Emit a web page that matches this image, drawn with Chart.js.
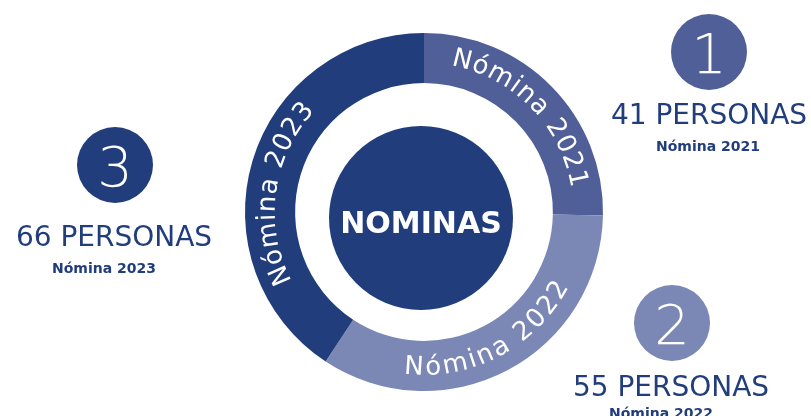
<!DOCTYPE html>
<html>
<head>
<meta charset="utf-8">
<script src="https://cdn.jsdelivr.net/npm/chart.js@4"></script>
<style>
  html, body { margin: 0; padding: 0; background: #ffffff; }
  #wrap { width: 811px; height: 416px; position: relative; overflow: hidden; }
</style>
</head>
<body>
<div id="wrap"><canvas id="nominasChart" width="811" height="416"></canvas></div>
<script>
// chart data
var categories = ['Nómina 2021', 'Nómina 2022', 'Nómina 2023'];
var personas = [41, 55, 66];
var ranks = ['1', '2', '3'];
var centerLabel = 'NOMINAS';
var unitLabel = 'PERSONAS';

var colors = ['#505f98', '#7b87b5', '#213d7c'];
var navy = '#213d7c';
var FONT = '"DejaVu Sans", "Noto Sans", sans-serif';

// where each side note sits (badge centre, count line, sub line)
var notes = [
    { bx: 709, by: 52, tx: 709, ty: 124, sx: 708, sy: 151 },
    { bx: 672, by: 323, tx: 671, ty: 396, sx: 661, sy: 418 },
    { bx: 115, by: 165, tx: 114, ty: 246, sx: 104, sy: 273 }
];
// small nudge (degrees) of each ring label along its arc
var labelShift = [0, 0, -9];

function drawArcText(ctx, text, cx, cy, r, mid, flip) {
    var ls = 1.6;
    ctx.save();
    ctx.font = '400 26px ' + FONT;
    ctx.fillStyle = '#ffffff';
    ctx.textAlign = 'center';
    ctx.textBaseline = 'middle';
    var chars = text.split('');
    var widths = chars.map(function(c) { return ctx.measureText(c).width; });
    var total = widths.reduce(function(a, b) { return a + b; }, 0) + ls * (chars.length - 1);
    var span = total / r;
    var a = flip ? mid + span / 2 : mid - span / 2;
    chars.forEach(function(c, k) {
        var half = widths[k] / 2 / r;
        var ang = flip ? a - half : a + half;
        ctx.save();
        ctx.translate(cx + r * Math.cos(ang), cy + r * Math.sin(ang));
        ctx.rotate(flip ? ang - Math.PI / 2 : ang + Math.PI / 2);
        ctx.fillText(c, 0, 0);
        ctx.restore();
        var step = (widths[k] + ls) / r;
        a = flip ? a - step : a + step;
    });
    ctx.restore();
}

var nominasPlugin = {
    id: 'nominas',
    afterDatasetsDraw: function(chart) {
        var ctx = chart.ctx;
        var meta = chart.getDatasetMeta(0);
        var cx = 0, cy = 0;
        meta.data.forEach(function(arc, i) {
            var p = arc.getProps(['x', 'y', 'startAngle', 'endAngle', 'innerRadius', 'outerRadius'], true);
            cx = p.x; cy = p.y;
            var mid = (p.startAngle + p.endAngle) / 2 + labelShift[i] * Math.PI / 180;
            var r = (p.innerRadius + p.outerRadius) / 2 + 2;
            drawArcText(ctx, chart.data.labels[i], p.x, p.y, r, mid, Math.sin(mid) > 0.2);
        });

        // centre disc
        ctx.save();
        ctx.fillStyle = navy;
        ctx.beginPath();
        ctx.arc(cx - 3, cy + 6, 92, 0, Math.PI * 2);
        ctx.fill();
        ctx.fillStyle = '#ffffff';
        ctx.font = 'bold 30px ' + FONT;
        ctx.textAlign = 'center';
        ctx.textBaseline = 'alphabetic';
        ctx.fillText(centerLabel, cx - 3, cy + 21);
        ctx.restore();

        // side notes
        notes.forEach(function(n, i) {
            ctx.save();
            ctx.fillStyle = colors[i];
            ctx.beginPath();
            ctx.arc(n.bx, n.by, 38, 0, Math.PI * 2);
            ctx.fill();
            ctx.fillStyle = '#ffffff';
            ctx.font = '300 56px ' + FONT;
            ctx.textAlign = 'center';
            ctx.textBaseline = 'alphabetic';
            ctx.fillText(ranks[i], n.bx, n.by + 21);

            ctx.fillStyle = navy;
            ctx.font = '500 28px ' + FONT;
            ctx.fillText(personas[i] + ' ' + unitLabel, n.tx, n.ty);
            ctx.font = '600 14px ' + FONT;
            ctx.fillText(categories[i], n.sx, n.sy);
            ctx.restore();
        });
    }
};

document.addEventListener('DOMContentLoaded', function() {
    var ctx = document.getElementById('nominasChart').getContext('2d');
    var nominasChart = new Chart(ctx, {
        type: 'doughnut',
        data: {
            labels: categories,
            datasets: [{
                data: personas,
                backgroundColor: colors,
                borderWidth: 0,
                hoverOffset: 0
            }]
        },
        options: {
            responsive: false,
            devicePixelRatio: 1,
            animation: false,
            cutout: '72%',
            layout: {
                padding: { left: 200, right: 163, top: 33, bottom: 25 }
            },
            plugins: {
                legend: { display: false },
                tooltip: { enabled: false }
            }
        },
        plugins: [nominasPlugin]
    });
});
</script>
</body>
</html>
